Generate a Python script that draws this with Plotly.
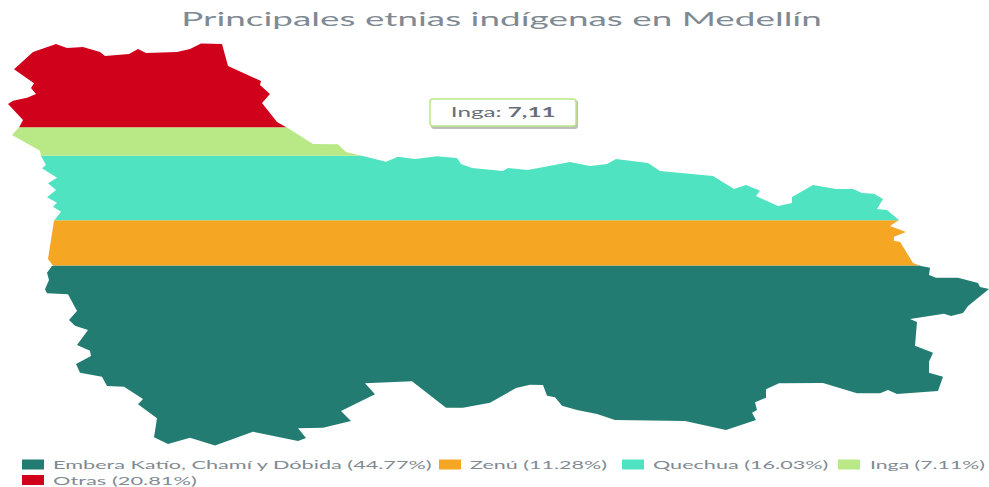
import plotly.graph_objects as go

TITLE = "Principales etnias indígenas en Medellín"
CATEGORIES = ["Embera Katío, Chamí y Dóbida", "Zenú", "Quechua", "Inga", "Otras"]
VALUES = [44.77, 11.28, 16.03, 7.11, 20.81]
COLORS = ["#237c72", "#f5a623", "#50e3c2", "#b8e986", "#d0021b"]
TOOLTIP_INDEX = 3

# Silhouette of the pictorial shape (outline only; the bands are computed from VALUES)
OUTLINE_X = [14,33,56,67,83,100,105,129,138,146,177,190,201,222,228,261,260,270,262,277,287,313,338,346,363,386,398,415,437,457,461,472,503,508,528,570,590,607,616,648,660,713,734,746,760,756,778,792,792,813,836,853,862,874,883,877,887,899,890,906,894,894,900,913,921,930,929,936,958,978,980,989,968,963,951,944,910,917,915,933,929,929,943,938,897,888,880,857,823,779,766,766,755,757,752,756,726,685,660,615,597,577,562,555,547,543,530,516,490,473,463,446,412,365,375,341,351,323,298,306,298,253,215,190,168,154,157,138,143,124,107,102,80,76,91,90,77,88,75,69,77,68,47,45,49,47,52,48,53,48,54,61,53,57,47,56,48,57,42,46,41,40,12,19,23,8,13,27,36,31,34]
OUTLINE_Y = [69.3,52,44,48,47,52,56,54,49,53,52,49,43.5,44,66,81,85,94,103,122,127.5,144,144.3,152,156,161.7,156.7,159,156.3,158,164,168,171,168,170,162,166,164,159,163,171,176,189,185,190.7,196,206,203,197,185,189,189,193,193.7,199,209,210,220,226,232,236.7,241,241.7,263,266,267.7,275,277.7,277.7,283,287,289,306,313,316,313.7,319,322,345.7,352.7,361.7,372.7,376.7,391,394,390,393.3,393.3,383,383.3,389.3,397.7,402.3,410,412.7,420,430,421,420.7,420,414,410,405.7,397.3,395.7,385,384.7,388,402.7,405.7,407.7,407.7,381.3,383.3,394.3,411,421,427.7,428.3,438,441,431.7,445.5,437.7,444,437.3,418.3,404.3,399,386.7,386,376.7,372.7,364,356,350.7,345,330,325.7,320,311,294.3,293.3,289.3,280,272.7,266,268,265.7,259,220.7,211.7,206.7,202.7,197.3,190,183.3,177.7,168.3,165,156,150.7,135,127.3,120,104,100.7,97.7,94,88,83.3]

WIDTH, HEIGHT = 989, 487
PLOT_TOP, PLOT_BOTTOM = min(OUTLINE_Y), max(OUTLINE_Y)
SCALE = (PLOT_BOTTOM - PLOT_TOP) / 100.0
outline_share = [(PLOT_BOTTOM - y) / SCALE for y in OUTLINE_Y]
outline = list(zip(OUTLINE_X, outline_share))


def clip(poly, level, keep_above):
    """Clip a polygon against a horizontal line (Sutherland-Hodgman)."""
    def inside(p):
        return p[1] >= level if keep_above else p[1] <= level
    out = []
    for i, cur in enumerate(poly):
        prev = poly[i - 1]
        if inside(cur) != inside(prev):
            t = (level - prev[1]) / (cur[1] - prev[1])
            out.append((prev[0] + t * (cur[0] - prev[0]), level))
        if inside(cur):
            out.append(cur)
    return out


fig = go.Figure()
low = 0.0
for name, value, color in zip(CATEGORIES, VALUES, COLORS):
    high = low + value
    band = clip(clip(outline, low, True), high, False)
    xs = [p[0] for p in band] + [band[0][0]]
    ys = [p[1] for p in band] + [band[0][1]]
    fig.add_trace(go.Scatter(
        x=xs, y=ys, mode="lines", fill="toself", fillcolor=color,
        line=dict(width=0, color=color), name=f"{name} ({value}%)", hoverinfo="skip",
    ))
    low = high


def box_path(x0, y0, x1, y1, r):
    return (f"M{x0+r},{-y0} L{x1-r},{-y0} Q{x1},{-y0} {x1},{-(y0+r)} L{x1},{-(y1-r)} Q{x1},{-y1} {x1-r},{-y1} "
            f"L{x0+r},{-y1} Q{x0},{-y1} {x0},{-(y1-r)} L{x0},{-(y0+r)} Q{x0},{-y0} {x0+r},{-y0} Z")


shape_common = dict(type="path", xref="paper", yref="paper", xsizemode="pixel", ysizemode="pixel",
                    xanchor=0, yanchor=1, layer="above")
shapes = [
    dict(path=box_path(431, 100, 578, 129, 3), fillcolor="rgba(90,90,90,0.40)", line=dict(width=0), **shape_common),
    dict(path=box_path(430, 99, 576, 126, 3), fillcolor="#ffffff", line=dict(width=1.5, color=COLORS[TOOLTIP_INDEX]), **shape_common),
]

tooltip_text = f"{CATEGORIES[TOOLTIP_INDEX]}: <b>{str(VALUES[TOOLTIP_INDEX]).replace('.', ',')}</b>"

fig.update_layout(
    width=WIDTH, height=HEIGHT, autosize=False,
    margin=dict(l=0, r=0, t=0, b=0, pad=0),
    paper_bgcolor="#ffffff", plot_bgcolor="#ffffff",
    font=dict(family="Lato", color="#7f8a93"),
    xaxis=dict(range=[0, WIDTH], visible=False, fixedrange=True),
    yaxis=dict(range=[(PLOT_BOTTOM - HEIGHT) / SCALE, PLOT_BOTTOM / SCALE], visible=False, fixedrange=True),
    title=dict(text=TITLE, x=501.5 / WIDTH, xanchor="center", y=1 - 19 / HEIGHT, yanchor="middle",
               font=dict(family="Lato", size=19, color="#7f8a93")),
    showlegend=True,
    legend=dict(orientation="h", x=0, y=0, xanchor="left", yanchor="bottom", bgcolor="rgba(0,0,0,0)",
                font=dict(family="Lato", size=12, color="#7f8a93"), traceorder="normal"),
    shapes=shapes,
    annotations=[dict(text=tooltip_text, xref="paper", yref="paper", x=502.5 / WIDTH, y=1 - 112.5 / HEIGHT,
                      xanchor="center", yanchor="middle", showarrow=False,
                      font=dict(family="Lato", size=13.5, color="#666e78"))],
)

post_script = r"""
document.body.style.margin = '0';
var gd = document.getElementById('{plot_id}');
function stretch(el, width) {
  var x = parseFloat(el.getAttribute('x')) || 0;
  var s = width / el.getComputedTextLength();
  el.setAttribute('transform', 'translate(' + x + ' 0) scale(' + s + ' 1) translate(' + (-x) + ' 0)');
}
var t = gd.querySelector('.gtitle');
if (t) stretch(t, 641);
var a = gd.querySelector('.annotation-text');
if (a) stretch(a, 105);
var items = [[22,464.5,31,379],[439,464.5,31,137],[622,464.5,31,175.5],[838,464.5,32,115],[22,480,31,144]];
var leg = gd.querySelector('g.legend');
leg.setAttribute('transform', 'translate(0,0)');
var box = leg.querySelector('.scrollbox');
box.removeAttribute('clip-path');
box.style.clipPath = 'none';
box.setAttribute('transform', 'translate(0,0)');
leg.querySelectorAll('.traces').forEach(function (g, i) {
  var it = items[i];
  g.setAttribute('transform', 'translate(' + it[0] + ',' + it[1] + ')');
  var f = g.querySelector('.js-fill');
  if (f) f.setAttribute('d', 'M0,-5h22v10h-22z');
  var txt = g.querySelector('.legendtext');
  txt.setAttribute('x', it[2]);
  stretch(txt, it[3]);
});
"""

fig.write_html("out.html", config={"displayModeBar": False}, post_script=post_script)
